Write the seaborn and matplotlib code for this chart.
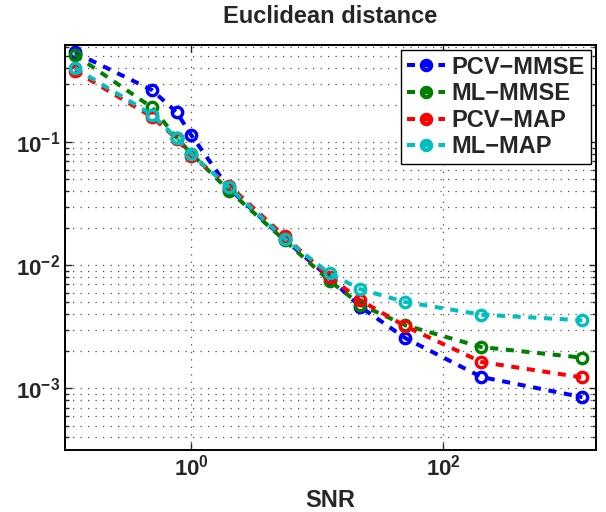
import numpy as np
import pandas as pd
import seaborn as sns
import matplotlib
matplotlib.use("Agg")
import matplotlib.pyplot as plt
from matplotlib.ticker import LogLocator, NullFormatter

# data (log-log)
snr = [0.12, 0.49, 0.77, 1.0, 2.0, 5.5, 12.5, 22, 50, 200, 1260]
pcv_mmse = [0.537, 0.266, 0.175, 0.115, 0.042, 0.0163, 0.0079, 0.0046, 0.00256, 0.00124, 0.00085]
ml_mmse = [0.514, 0.192, 0.109, 0.081, 0.0405, 0.016, 0.0075, 0.0048, 0.00326, 0.00217, 0.00178]
pcv_map = [0.381, 0.161, 0.107, 0.078, 0.0445, 0.0172, 0.0081, 0.0052, 0.0032, 0.00164, 0.00123]
ml_map = [0.401, 0.168, 0.108, 0.081, 0.043, 0.0165, 0.0086, 0.0064, 0.00504, 0.00398, 0.00358]

series_names = ["PCV\u2212MMSE", "ML\u2212MMSE", "PCV\u2212MAP", "ML\u2212MAP"]
series_vals = [pcv_mmse, ml_mmse, pcv_map, ml_map]
series_colors = ["#0000ff", "#008000", "#ff0000", "#00bfbf"]

sns.set_theme(style="ticks")
plt.rcParams["font.family"] = ["Liberation Sans", "DejaVu Sans"]
plt.rcParams["font.weight"] = "bold"
plt.rcParams["mathtext.fontset"] = "custom"
plt.rcParams["mathtext.rm"] = "Liberation Sans:bold"
plt.rcParams["mathtext.bf"] = "Liberation Sans:bold"
plt.rcParams["mathtext.default"] = "bf"

fig = plt.figure(figsize=(6.06, 5.12), dpi=100)
ax = fig.add_axes([0.107, 0.121, 0.876, 0.791])

# short thick dashes like the matlab '--' look
dash = (0, (2.0, 1.9))
for name, vals, col in zip(series_names, series_vals, series_colors):
    df = pd.DataFrame({"snr": snr, "err": vals})
    sns.lineplot(data=df, x="snr", y="err", ax=ax, label=name, color=col,
                 linestyle=dash, linewidth=2.9, marker="o", markersize=7.5,
                 markerfacecolor="none", markeredgecolor=col,
                 markeredgewidth=2.4)

ax.set_xscale("log")
ax.set_yscale("log")
ax.set_xlim(0.1, 10 ** 3.206)
ax.set_ylim(10 ** -3.5, 10 ** -0.21)

ax.set_xticks([1, 100])
ax.set_xticklabels([r"$10^{0}$", r"$10^{2}$"])
ax.xaxis.set_minor_locator(plt.NullLocator())
ax.set_yticks([1e-3, 1e-2, 1e-1])
ax.set_yticklabels([r"$10^{-3}$", r"$10^{-2}$", r"$10^{-1}$"])
ax.yaxis.set_minor_locator(LogLocator(base=10, subs=np.arange(2, 10)))
ax.yaxis.set_minor_formatter(NullFormatter())

ax.tick_params(which="both", direction="in", top=True, right=True,
               labelsize=16, width=1.0)
ax.tick_params(which="major", length=5)
ax.tick_params(which="minor", length=3)
for s in ax.spines.values():
    s.set_linewidth(1.4)
    s.set_color("black")

dots = (0, (1, 5))
ax.grid(True, which="major", axis="both", linestyle=dots, color="0.3", linewidth=0.9)
ax.grid(True, which="minor", axis="y", linestyle=dots, color="0.3", linewidth=0.9)

ax.set_xlabel("SNR", fontsize=17, fontweight="bold", labelpad=6)
ax.set_ylabel("")
ax.set_title("Euclidean distance", fontsize=17, fontweight="bold", pad=16)

leg = ax.legend(loc="upper right", fontsize=17, frameon=True, fancybox=False,
                framealpha=1, edgecolor="black", borderaxespad=0.2,
                borderpad=0.25, labelspacing=0.15, handlelength=1.6,
                handletextpad=0.3, numpoints=1)
leg.get_frame().set_linewidth(1.0)
for t in leg.get_texts():
    t.set_fontweight("bold")
for h in leg.legend_handles:
    h.set_markersize(6.5)
    h.set_markeredgewidth(3.2)

fig.savefig("out.png", dpi=100)
